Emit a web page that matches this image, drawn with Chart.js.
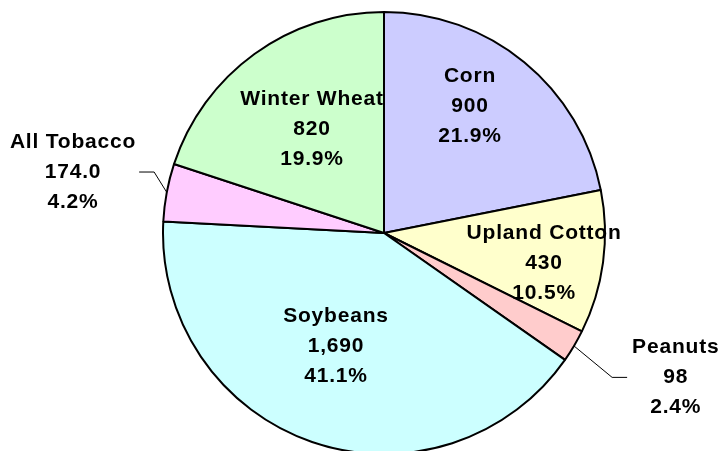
<!DOCTYPE html>
<html>
<head>
<meta charset="utf-8">
<script src="https://cdn.jsdelivr.net/npm/chart.js@4/dist/chart.umd.min.js"></script>
<style>
    html, body { margin: 0; padding: 0; background: #fff; overflow: hidden; }
    #wrap { width: 721px; height: 451px; }
</style>
</head>
<body>
<div id="wrap"><canvas id="cropPie" width="721" height="451"></canvas></div>
<script>
// Planted acreage by crop
const crops = ['Corn', 'Upland Cotton', 'Peanuts', 'Soybeans', 'All Tobacco', 'Winter Wheat'];
const acres = [900, 430, 98, 1690, 174.0, 820];
const decimals = [0, 0, 0, 0, 1, 0];
const sliceColors = ['#CCCCFF', '#FFFFCC', '#FFCCCC', '#CCFFFF', '#FFCCFF', '#CCFFCC'];

// Label placement: distance as a share of the radius, angle nudge in degrees,
// and whether the label sits outside the pie with a leader line
const labelRadius = [0.694, 0.737, 1.473, 0.556, 1.434, 0.572];
const labelNudge = [-5.3, 3.0, -4.4, 4.0, 0.5, 1.2];
const labelOutside = [false, false, true, false, true, false];

const total = acres.reduce((a, b) => a + b, 0);
const FONT = 'bold 21px "Liberation Sans", Arial, sans-serif';
const LINE_H = 30;

const sliceLabels = {
    id: 'sliceLabels',
    afterDatasetsDraw(chart) {
        const ctx = chart.ctx;
        const arcs = chart.getDatasetMeta(0).data;
        ctx.save();
        ctx.font = FONT;
        ctx.letterSpacing = '0.8px';
        ctx.fillStyle = '#000';
        ctx.textAlign = 'center';
        ctx.textBaseline = 'middle';
        arcs.forEach((arc, i) => {
            const mid = (arc.startAngle + arc.endAngle) / 2;
            const ang = mid + labelNudge[i] * Math.PI / 180;
            const r = arc.outerRadius * labelRadius[i];
            const tx = arc.x + Math.cos(ang) * r;
            const ty = arc.y + Math.sin(ang) * r;
            const lines = [
                crops[i],
                acres[i].toLocaleString('en-US', { minimumFractionDigits: decimals[i], maximumFractionDigits: decimals[i] }),
                (acres[i] / total * 100).toFixed(1) + '%'
            ];

            if (labelOutside[i]) {
                // leader line: from the rim at mid-angle, an elbow, then a short horizontal
                const half = Math.max(...lines.map(s => ctx.measureText(s).width)) / 2;
                const toRight = tx < arc.x;
                const endX = toRight ? tx + half + 3 : tx - half - 5;
                const elbowX = toRight ? endX + 15 : endX - 15;
                const sx = arc.x + Math.cos(mid) * arc.outerRadius;
                const sy = arc.y + Math.sin(mid) * arc.outerRadius;
                ctx.beginPath();
                ctx.strokeStyle = '#000';
                ctx.lineWidth = 1;
                ctx.moveTo(sx, sy);
                ctx.lineTo(elbowX, ty);
                ctx.lineTo(endX, ty);
                ctx.stroke();
            }

            lines.forEach((s, k) => {
                ctx.fillText(s, tx, ty + (k - 1) * LINE_H);
            });
        });
        ctx.restore();
    }
};

new Chart(document.getElementById('cropPie'), {
    type: 'pie',
    data: {
        labels: crops,
        datasets: [{
            data: acres,
            backgroundColor: sliceColors,
            borderColor: '#000',
            borderWidth: 2,
            radius: 221,
            clip: false
        }]
    },
    options: {
        responsive: false,
        animation: false,
        layout: {
            padding: { left: 47, right: 0, top: 15, bottom: 0 }
        },
        plugins: {
            legend: { display: false },
            tooltip: { enabled: false }
        }
    },
    plugins: [sliceLabels]
});
</script>
</body>
</html>
